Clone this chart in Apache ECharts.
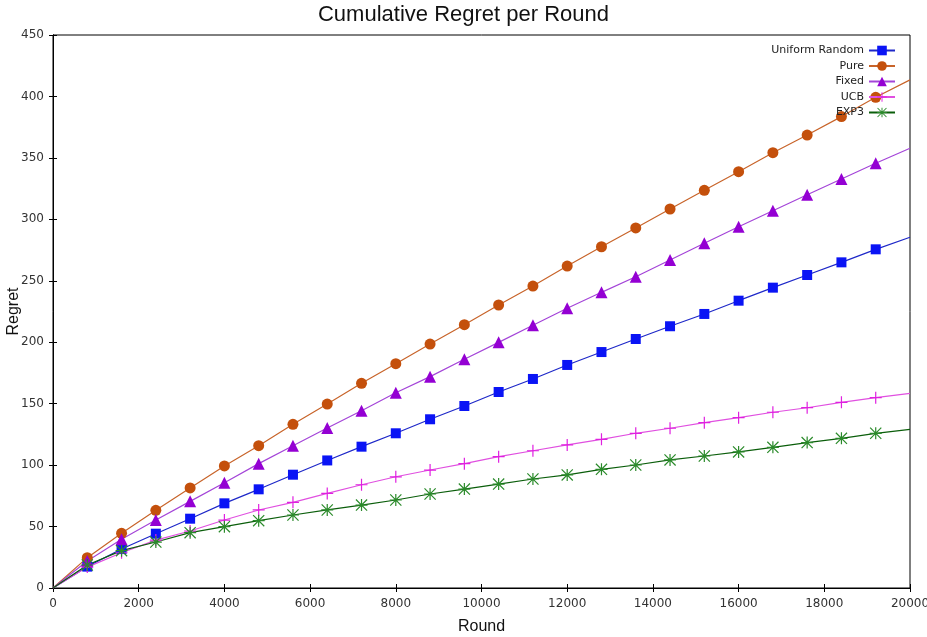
<!DOCTYPE html>
<html>
<head>
<meta charset="utf-8">
<script src="https://cdn.jsdelivr.net/npm/echarts@6/dist/echarts.min.js"></script>
<style>
  html, body { margin: 0; padding: 0; background: #fff; }
  #regret { width: 927px; height: 637px; }
</style>
</head>
<body>
<div id="regret"></div>
<script>
var rounds = [0, 800, 1600, 2400, 3200, 4000, 4800, 5600, 6400, 7200, 8000, 8800, 9600,
	10400, 11200, 12000, 12800, 13600, 14400, 15200, 16000, 16800, 17600, 18400, 19200, 20000];

var uniformRandom = [0, 17.4, 31.7, 44.2, 56.4, 68.9, 80.3, 92.2, 103.8, 115, 125.9, 137.3, 148.1,
	159.5, 170.1, 181.5, 192, 202.6, 213, 223, 233.8, 244.4, 254.7, 265, 275.6, 285.4];
var pure = [0, 24.7, 44.5, 63.2, 81.4, 99.3, 115.8, 133.2, 149.7, 166.6, 182.5, 198.5, 214.3,
	230.3, 245.7, 262, 277.7, 293, 308.4, 323.6, 338.8, 354.2, 368.6, 383.6, 399.3, 413.5];
var fixed = [0, 22, 39.6, 55.3, 70.5, 85.7, 101.2, 115.8, 130.2, 144.3, 158.9, 172, 186.1,
	199.9, 213.8, 227.6, 240.6, 253.3, 266.9, 280.5, 294, 307, 320, 332.8, 345.6, 357.8];
var ucb = [0, 17, 28.7, 39, 46.4, 55.3, 63.5, 69.7, 77, 84, 90.5, 96, 101.2,
	106.9, 111.7, 116.4, 121, 125.9, 130, 134.5, 138.6, 143, 146.7, 151.1, 154.9, 158.4];
var exp3 = [0, 18.7, 30.4, 37.4, 45, 49.9, 54.8, 59.4, 63.5, 67.5, 71.6, 76.5, 80.5,
	84.6, 88.7, 92, 96.6, 100.1, 104.2, 107.4, 110.7, 114.5, 118.3, 121.8, 125.9, 129.1];

var xTicks = [0, 2000, 4000, 6000, 8000, 10000, 12000, 14000, 16000, 18000, 20000];
var yTicks = [0, 50, 100, 150, 200, 250, 300, 350, 400, 450];

// gnuplot style point shapes
var plusPath = 'path://M9,0 L11,0 L11,9 L20,9 L20,11 L11,11 L11,20 L9,20 L9,11 L0,11 L0,9 L9,9 Z';
var starPath = 'path://M9,0 L11,0 L11,9 L20,9 L20,11 L11,11 L11,20 L9,20 L9,11 L0,11 L0,9 L9,9 Z'
	+ ' M1.4,0 L20,18.6 L18.6,20 L0,1.4 Z'
	+ ' M18.6,0 L20,1.4 L1.4,20 L0,18.6 Z';

function toData(values) {
	var out = [];
	for (var i = 0; i < rounds.length; i++) {
		var item = { value: [rounds[i], values[i]] };
		// no point mark at the two ends of the curve
		if (i === 0 || i === rounds.length - 1) {
			item.symbol = 'none';
		}
		out.push(item);
	}
	return out;
}

function makeSeries(name, values, symbol, size, markColor, lineColor) {
	return {
		name: name,
		type: 'line',
		data: toData(values),
		symbol: symbol,
		symbolSize: size,
		showAllSymbol: true,
		smooth: false,
		itemStyle: { color: markColor },
		lineStyle: { color: lineColor, width: 1.2 },
		emphasis: { disabled: true },
		animation: false
	};
}

var myChart = echarts.init(document.getElementById('regret'));
var option = {
	backgroundColor: '#fff',
	textStyle: { fontFamily: 'Liberation Sans, Arial, sans-serif' },
	title: {
		text: 'Cumulative Regret per Round',
		left: 'center',
		top: -1,
		textStyle: { fontSize: 22, fontWeight: 'normal', color: '#111', fontFamily: 'Liberation Sans, Arial, sans-serif' }
	},
	legend: {
		orient: 'vertical',
		right: 26,
		top: 40,
		align: 'right',
		itemWidth: 26,
		itemHeight: 12,
		itemGap: 4.5,
		textStyle: { fontSize: 11, color: '#222', fontFamily: 'DejaVu Sans, sans-serif' },
		data: ['Uniform Random', 'Pure', 'Fixed', 'UCB', 'EXP3']
	},
	grid: {
		left: 53,
		right: 17,
		top: 35,
		bottom: 49,
		show: true,
		borderColor: '#000',
		borderWidth: 1,
		outerBoundsMode: 'none',
		containLabel: false
	},
	xAxis: [{
		type: 'value',
		min: 0,
		max: 20000,
		interval: 2000,
		name: 'Round',
		nameLocation: 'middle',
		nameGap: 31,
		nameMoveOverlap: false,
		nameTextStyle: { fontSize: 16, color: '#111' },
		axisLine: { show: true, lineStyle: { color: '#000' } },
		axisTick: { inside: true, length: 4, lineStyle: { color: '#000' } },
		axisLabel: {
			color: '#333', fontSize: 12, margin: 10, fontFamily: 'DejaVu Sans, sans-serif',
			formatter: function (v) { return xTicks.indexOf(v) >= 0 ? String(v) : ''; }
		},
		splitLine: { show: false }
	}, {
		type: 'value',
		position: 'top',
		min: 0,
		max: 20000,
		interval: 2000,
		axisLine: { show: true, lineStyle: { color: '#000' } },
		axisTick: { inside: true, length: 4, lineStyle: { color: '#000' } },
		axisLabel: { show: false },
		splitLine: { show: false }
	}],
	yAxis: [{
		type: 'value',
		min: 0,
		max: 450,
		interval: 50,
		name: 'Regret',
		nameLocation: 'middle',
		nameRotate: 90,
		nameGap: 31,
		nameMoveOverlap: false,
		nameTextStyle: { fontSize: 16, color: '#111' },
		axisLine: { show: true, lineStyle: { color: '#000' } },
		axisTick: { inside: true, length: 4, lineStyle: { color: '#000' } },
		axisLabel: {
			color: '#333', fontSize: 12, margin: 9, fontFamily: 'DejaVu Sans, sans-serif',
			formatter: function (v) { return yTicks.indexOf(v) >= 0 ? String(v) : ''; }
		},
		splitLine: { show: false }
	}, {
		type: 'value',
		position: 'right',
		min: 0,
		max: 450,
		interval: 50,
		axisLine: { show: true, lineStyle: { color: '#000' } },
		axisTick: { inside: true, length: 4, lineStyle: { color: '#000' } },
		axisLabel: { show: false },
		splitLine: { show: false }
	}],
	series: [
		makeSeries('Uniform Random', uniformRandom, 'rect', 10, '#0a14f5', '#1e28c8'),
		makeSeries('Pure', pure, 'circle', 11, '#c4500c', '#c8642a'),
		makeSeries('Fixed', fixed, 'triangle', 12, '#9400d3', '#a445d8'),
		makeSeries('UCB', ucb, plusPath, 12, '#e020e0', '#e050e0'),
		makeSeries('EXP3', exp3, starPath, 12, '#2a8a2a', '#0b5e0b')
	]
};
myChart.setOption(option);
</script>
</body>
</html>
